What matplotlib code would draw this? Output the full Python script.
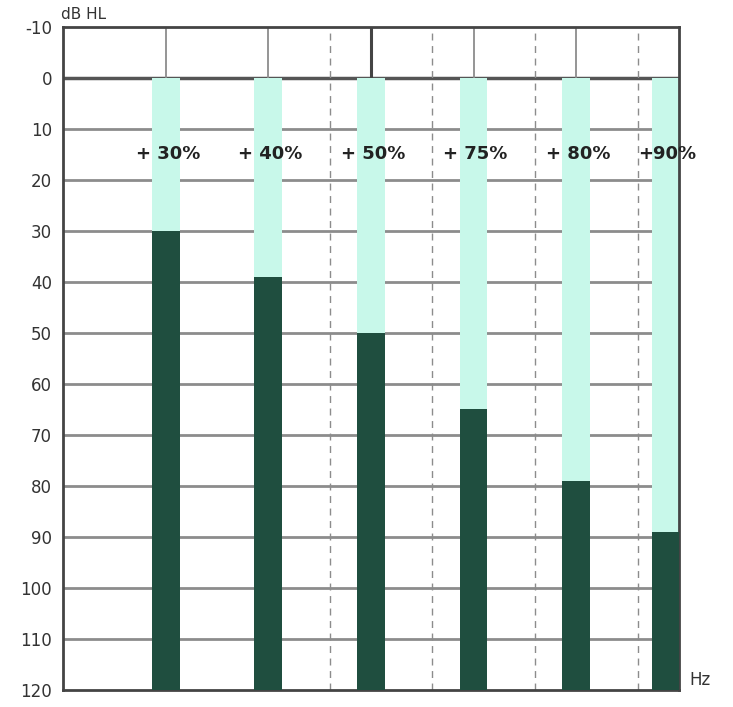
import matplotlib.pyplot as plt

labels = ['+ 30%', '+ 40%', '+ 50%', '+ 75%', '+ 80%', '+90%']
positions = [1, 2, 3, 4, 5, 5.87]
thresholds = [30, 39, 50, 65, 79, 89]
solid_lines = [1, 2, 4, 5]
dashed_lines = [2.6, 3.6, 4.6, 5.6]
yticks = list(range(-10, 121, 10))

fig = plt.figure(figsize=(7.33, 7.07), dpi=100)
ax = fig.add_axes([0.086, 0.024, 0.840, 0.938])
ax.set_xlim(0, 6)
ax.set_ylim(120, -10)

grid_c = '#8c8c8c'
for y in range(10, 120, 10):
    ax.plot([0, 5.78], [y, y], color=grid_c, lw=2, zorder=1)
ax.plot([0, 6], [0, 0], color='#555555', lw=2.5, zorder=1)
for x in solid_lines:
    ax.axvline(x, color=grid_c, lw=1.3, zorder=1)
ax.axvline(3, color='#444444', lw=2.2, zorder=1)
for x in dashed_lines:
    ax.axvline(x, color=grid_c, lw=1, ls=(0, (5, 4)), zorder=1)

w = 0.27
ax.bar(positions, [120] * len(positions), bottom=0, width=w, color='#c8f8ea', zorder=2)
ax.bar(positions, [120 - t for t in thresholds], bottom=thresholds, width=w,
       color='#1f4e3f', zorder=3)
for x, lab in zip(positions, labels):
    ax.text(x + 0.02, 15, lab, ha='center', va='center', fontsize=13,
            fontweight='bold', color='#222222', zorder=4)

ax.set_yticks(yticks)
ax.set_yticklabels([str(t) for t in yticks], fontsize=12, color='#333333')
ax.set_xticks([])
ax.tick_params(axis='y', length=0, pad=8)
for s in ax.spines.values():
    s.set_color('#444444')
    s.set_linewidth(2)
ax.text(-0.02, -11, 'dB HL', ha='left', va='bottom', fontsize=11, color='#333333')
ax.text(6.1, 118, 'Hz', ha='left', va='center', fontsize=12, color='#333333', clip_on=False)

fig.savefig('out.png')
